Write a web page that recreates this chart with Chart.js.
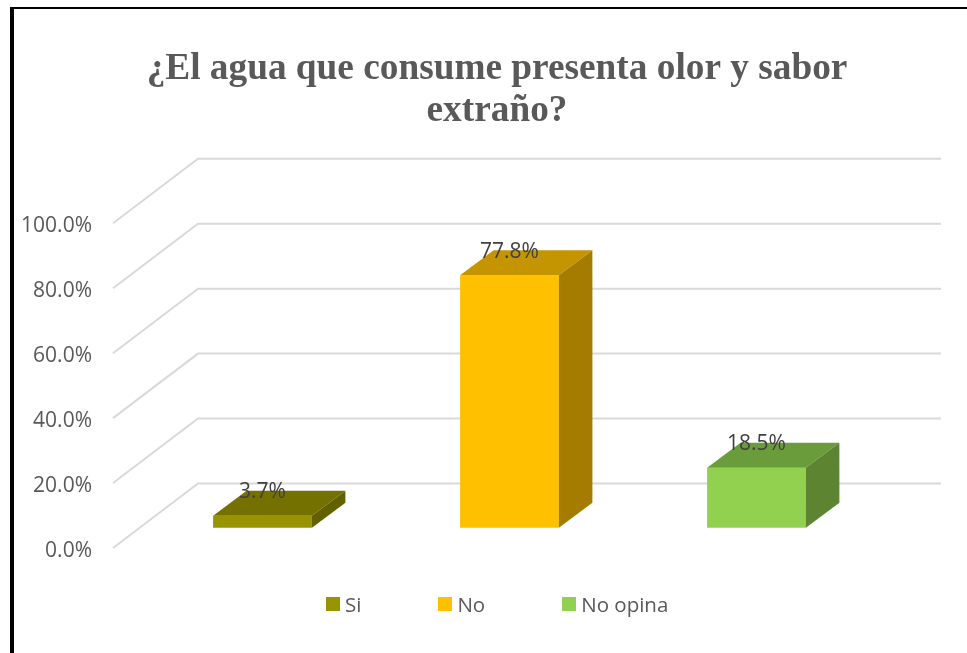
<!DOCTYPE html>
<html lang="es">
<head>
<meta charset="utf-8">
<title>Olor y sabor del agua</title>
<script src="https://cdn.jsdelivr.net/npm/chart.js@4/dist/chart.umd.min.js"></script>
<style>
  html, body { margin: 0; padding: 0; background: #fff; width: 967px; height: 653px; overflow: hidden; }
  #frame { position: absolute; left: 10px; top: 7px; width: 957px; height: 646px; border-left: 4px solid #000; border-top: 2px solid #000; box-sizing: border-box; }
  #chart { position: absolute; left: 14px; top: 0; display: block; }
  #legend { position: absolute; top: 590px; left: 326px; display: flex; font: 20.5px "Open Sans", sans-serif; color: #595959; line-height: 28px; }
  #legend span { display: flex; align-items: center; margin-right: 77px; white-space: nowrap; }
  #legend i { display: block; width: 14px; height: 14px; margin-right: 5px; }
</style>
</head>
<body>
<div id="frame"></div>
<canvas id="chart" width="966" height="653"></canvas>
<div id="legend"></div>
<script>
const titleLines = ["¿El agua que consume presenta olor y sabor", "extraño?"];
const categories = ["Si", "No", "No opina"];
const percentValues = [3.7, 77.8, 18.5];
const frontColors = ["#989400", "#FFC000", "#92D050"];
const topColors = ["#757100", "#C49500", "#6B9C3B"];
const sideColors = ["#636000", "#A67C00", "#5C8431"];

const FONT = '"Open Sans", sans-serif';
// 3D look: how far the walls and the bars recede
const WALL_DX = 85, WALL_DY = 64.5, WALL_FRONT = 26, WALL_RIGHT = 61;
const BAR_DX = 33.5, BAR_DY = 25;

const pct = v => v.toFixed(1) + "%";

const wallPlugin = {
  id: "wall",
  beforeDatasetsDraw(chart) {
    const { ctx, chartArea: area, scales: { y } } = chart;
    ctx.save();
    ctx.strokeStyle = "#D9D9D9";
    ctx.lineWidth = 2;
    y.ticks.forEach(t => {
      const py = y.getPixelForValue(t.value);
      const x0 = area.left - WALL_FRONT;
      ctx.beginPath();
      ctx.moveTo(x0, py);
      ctx.lineTo(x0 + WALL_DX, py - WALL_DY);
      ctx.lineTo(area.right + WALL_RIGHT, py - WALL_DY);
      ctx.stroke();
    });
    ctx.restore();
  },
};

function poly(ctx, color, pts) {
  ctx.fillStyle = color;
  ctx.beginPath();
  pts.forEach((p, i) => (i ? ctx.lineTo(p[0], p[1]) : ctx.moveTo(p[0], p[1])));
  ctx.closePath();
  ctx.fill();
}

const bar3dPlugin = {
  id: "bar3d",
  afterDatasetsDraw(chart) {
    const { ctx } = chart;
    chart.getDatasetMeta(0).data.forEach((bar, i) => {
      const l = bar.x - bar.width / 2, r = bar.x + bar.width / 2;
      poly(ctx, topColors[i], [[l, bar.y], [l + BAR_DX, bar.y - BAR_DY], [r + BAR_DX, bar.y - BAR_DY], [r, bar.y]]);
      poly(ctx, sideColors[i], [[r, bar.y], [r + BAR_DX, bar.y - BAR_DY], [r + BAR_DX, bar.base - BAR_DY], [r, bar.base]]);
      ctx.save();
      ctx.fillStyle = "#404040";
      ctx.font = "21px " + FONT;
      ctx.textAlign = "center";
      ctx.textBaseline = "middle";
      ctx.fillText(pct(percentValues[i]), bar.x, bar.y - 23.5);
      ctx.restore();
    });
  },
};

new Chart(document.getElementById("chart"), {
  type: "bar",
  data: {
    labels: categories,
    datasets: [{
      data: percentValues,
      backgroundColor: frontColors,
      yAxisID: "yBars",
      categoryPercentage: 1,
      barPercentage: 0.4,
    }],
  },
  options: {
    responsive: false,
    animation: false,
    layout: { padding: { left: 0, right: 0, top: 0, bottom: 105 } },
    plugins: {
      legend: { display: false },
      tooltip: { enabled: false },
      title: {
        display: true,
        text: titleLines,
        color: "#595959",
        font: { family: '"Liberation Serif", serif', size: 37.3, weight: "bold", lineHeight: 1.13 },
        padding: { top: 48, bottom: 91 },
      },
    },
    scales: {
      x: { display: false },
      y: {
        position: "left",
        min: 0,
        max: 100,
        border: { display: false },
        grid: { display: false, drawTicks: false },
        ticks: { stepSize: 20, padding: 47, labelOffset: 3, color: "#595959", font: { family: FONT, size: 21 }, callback: pct },
        afterFit: s => { s.width = 125; },
      },
      // bars stand further back than the front wall edge, so they get a shifted axis.
      // it sits unlabelled on the right and keeps the space the gridlines run into
      yBars: {
        position: "right",
        min: -6.2,
        max: 93.8,
        border: { display: false },
        grid: { display: false, drawTicks: false },
        ticks: { display: false },
        afterFit: s => { s.width = 100; },
      },
    },
  },
  plugins: [wallPlugin, bar3dPlugin],
});

const legendEl = document.getElementById("legend");
categories.forEach((c, i) => {
  const item = document.createElement("span");
  const box = document.createElement("i");
  box.style.background = frontColors[i];
  item.append(box, c);
  legendEl.append(item);
});
</script>
</body>
</html>
